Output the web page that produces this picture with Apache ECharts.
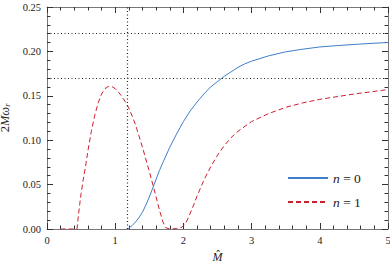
<!DOCTYPE html>
<html>
<head>
<meta charset="utf-8">
<script src="https://cdn.jsdelivr.net/npm/echarts@6/dist/echarts.min.js"></script>
<style>html,body{margin:0;padding:0;background:#fff}#c{width:390px;height:271px}</style>
</head>
<body>
<div id="c"></div>
<script>
// n = 0 curve (x, 2Mω_r)
const n0X = [1.17, 1.2, 1.25, 1.3, 1.35, 1.4, 1.45, 1.5, 1.55, 1.6, 1.65, 1.7, 1.8, 1.9, 2.0, 2.1, 2.2, 2.3, 2.4, 2.5, 2.6, 2.7, 2.8, 2.9, 3.0, 3.25, 3.5, 3.75, 4.0, 4.25, 4.5, 4.75, 5.0];
const n0Y = [0.0, 0.001, 0.004, 0.008, 0.013, 0.019, 0.027, 0.036, 0.046, 0.056, 0.066, 0.075, 0.092, 0.107, 0.121, 0.133, 0.143, 0.152, 0.160, 0.166, 0.172, 0.177, 0.182, 0.186, 0.189, 0.195, 0.1995, 0.2025, 0.205, 0.2065, 0.2078, 0.209, 0.210];
// n = 1 curve
const n1X = [0.2, 0.44, 0.46, 0.48, 0.5, 0.53, 0.56, 0.6, 0.65, 0.7, 0.75, 0.8, 0.85, 0.9, 0.95, 1.0, 1.05, 1.1, 1.15, 1.2, 1.25, 1.3, 1.4, 1.5, 1.6, 1.65, 1.7, 1.74, 1.8, 1.9, 1.98, 2.03, 2.08, 2.15, 2.2, 2.3, 2.4, 2.5, 2.6, 2.7, 2.8, 3.0, 3.25, 3.5, 3.75, 4.0, 4.5, 5.0];
const n1Y = [0.0, 0.0, 0.015, 0.028, 0.040, 0.055, 0.068, 0.088, 0.110, 0.128, 0.142, 0.152, 0.158, 0.1605, 0.1605, 0.158, 0.154, 0.149, 0.143, 0.136, 0.127, 0.117, 0.092, 0.065, 0.036, 0.021, 0.008, 0.0015, 0.0, 0.0005, 0.002, 0.006, 0.014, 0.027, 0.037, 0.055, 0.070, 0.083, 0.094, 0.103, 0.110, 0.121, 0.130, 0.137, 0.142, 0.146, 0.152, 0.157];
// reference lines
const refY = [0.22, 0.173];
const refX = [1.17];
// ticks
const xTicks = [0, 1, 2, 3, 4, 5];
const yTicks = [0.00, 0.05, 0.10, 0.15, 0.20, 0.25];
const seriesNames = ['n = 0', 'n = 1'];

const zip = (xs, ys) => xs.map((x, i) => [x, ys[i]]);
const font = 'Liberation Serif, DejaVu Serif, serif';
const axCol = '#777';
const tickCol = '#333';
const xMin = xTicks[0], xMax = xTicks[xTicks.length - 1];
const yMin = yTicks[0], yMax = yTicks[yTicks.length - 1];

function xAxisCfg(pos, labels) {
  return {
    type: 'value', position: pos, min: xMin, max: xMax, interval: 1,
    axisLine: { show: true, onZero: false, lineStyle: { color: axCol, width: 1 } },
    axisTick: { show: true, inside: true, length: 6, lineStyle: { color: tickCol, width: 1 } },
    minorTick: { show: true, splitNumber: 5, length: 3.5, lineStyle: { color: tickCol, width: 1 } },
    splitLine: { show: false },
    axisLabel: { show: labels, color: '#222', fontFamily: font, fontSize: 10.5, margin: 6, formatter: v => String(v) },
    name: labels ? 'M\u0302' : '', nameLocation: 'middle', nameGap: 22,
    nameTextStyle: { color: '#222', fontFamily: font, fontSize: 12, fontStyle: 'italic' }
  };
}
function yAxisCfg(pos, labels) {
  return {
    type: 'value', position: pos, min: yMin, max: yMax, interval: 0.05,
    axisLine: { show: true, onZero: false, lineStyle: { color: axCol, width: 1 } },
    axisTick: { show: true, inside: true, length: 6, lineStyle: { color: tickCol, width: 1 } },
    minorTick: { show: true, splitNumber: 5, length: 3.5, lineStyle: { color: tickCol, width: 1 } },
    splitLine: { show: false },
    axisLabel: { show: labels, color: '#222', fontFamily: font, fontSize: 10.5, margin: 6, formatter: v => v.toFixed(2) },
    name: labels ? '{n|2}{i|Mω}{s|r}' : '', nameLocation: 'middle', nameGap: 30, nameRotate: 90,
    nameTextStyle: {
      color: '#222', fontFamily: font, fontSize: 12,
      rich: {
        n: { fontFamily: font, fontSize: 12.5, color: '#222' },
        i: { fontFamily: font, fontSize: 12.5, fontStyle: 'italic', color: '#222' },
        s: { fontFamily: font, fontSize: 8, fontStyle: 'italic', color: '#222', verticalAlign: 'bottom', padding: [5, 0, 0, 0] }
      }
    }
  };
}

const chart = echarts.init(document.getElementById('c'), null, { renderer: 'svg' });
chart.setOption({
  animation: false,
  backgroundColor: '#fff',
  grid: { left: 47, right: 2, top: 7, bottom: 42, containLabel: false, outerBoundsMode: 'none' },
  xAxis: [xAxisCfg('bottom', true), xAxisCfg('top', false)],
  yAxis: [yAxisCfg('left', true), yAxisCfg('right', false)],
  legend: {
    orient: 'vertical', left: 282, top: 166, itemWidth: 40, itemHeight: 8, itemGap: 10,
    data: seriesNames,
    itemStyle: { opacity: 0 },
    formatter: name => '{i|n}' + name.slice(1),
    textStyle: {
      fontFamily: font, fontSize: 13.5, color: '#222',
      rich: { i: { fontFamily: font, fontSize: 13.5, fontStyle: 'italic', color: '#222' } }
    }
  },
  series: [
    {
      name: seriesNames[0], type: 'line', data: zip(n0X, n0Y), symbol: 'none', smooth: false,
      lineStyle: { color: '#3f7ec9', width: 1 }, itemStyle: { color: '#3f7ec9' }
    },
    {
      name: seriesNames[1], type: 'line', data: zip(n1X, n1Y), symbol: 'none', smooth: false,
      lineStyle: { color: '#cc1f2e', width: 1, type: [5, 3] }, itemStyle: { color: '#cc1f2e' }
    },
    {
      name: 'ref', type: 'line', data: [], silent: true,
      markLine: {
        silent: true, symbol: 'none', label: { show: false },
        lineStyle: { color: '#222', width: 1.2, type: [1, 2.5] },
        data: refY.map(v => ({ yAxis: v })).concat(refX.map(v => ({ xAxis: v })))
      }
    }
  ]
});
</script>
</body>
</html>
